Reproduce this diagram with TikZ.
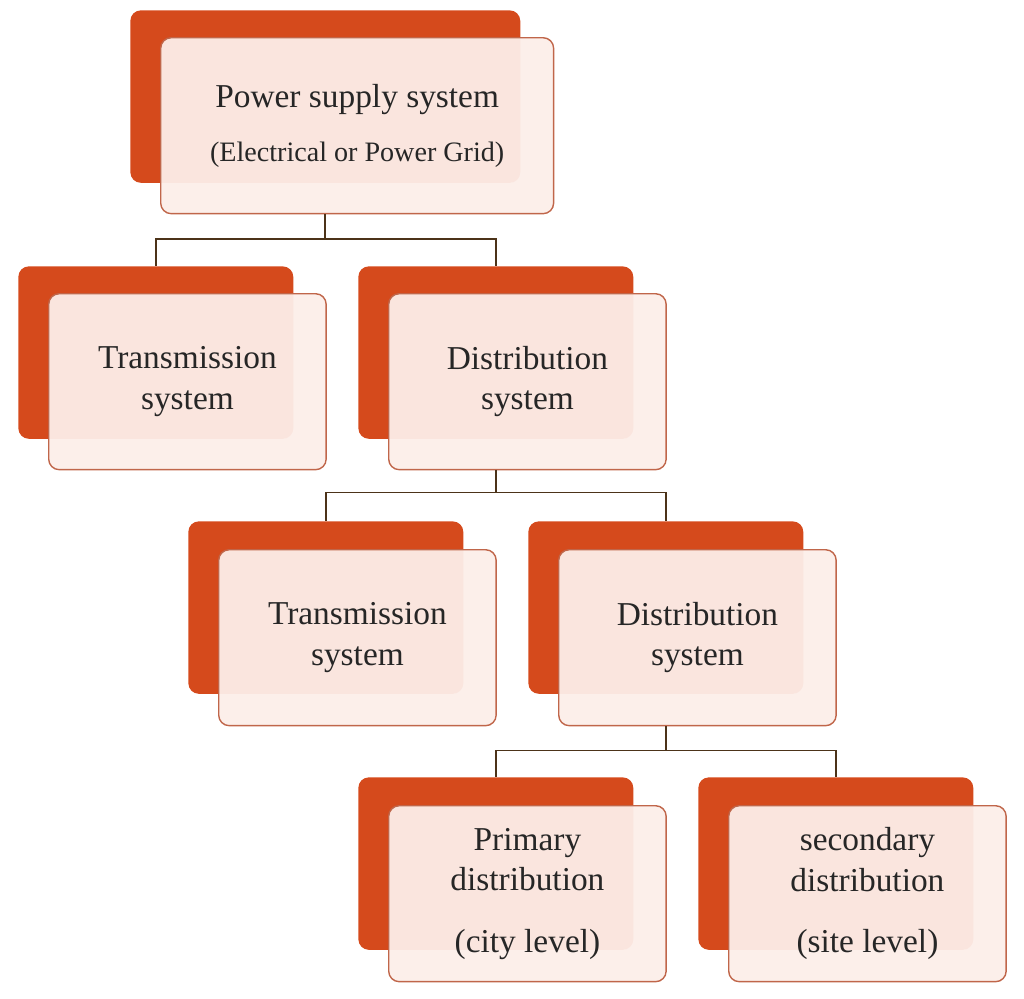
\documentclass[tikz,border=0pt]{standalone}
\usepackage{fontspec}
\setmainfont{Liberation Serif}
\usetikzlibrary{positioning}
\definecolor{rust}{HTML}{D54A1C}
\definecolor{edge}{HTML}{C0664A}
\definecolor{blush}{HTML}{FCEEE9}
\begin{document}
\begin{tikzpicture}[x=0.02cm,y=-0.02cm]
    \tikzstyle{back} = [rectangle, fill=rust, rounded corners=6pt, anchor=north west,
               minimum width=5.5cm, minimum height=3.45cm, inner sep=0pt]
    \tikzstyle{front} = [rectangle, draw=edge, fill=blush, fill opacity=0.95,
               text opacity=1, rounded corners=6pt, anchor=north west, line width=0.8pt,
               minimum width=5.55cm, minimum height=3.52cm, inner sep=0pt,
               align=center, font=\fontsize{19}{23}\selectfont, text=black!85]
    \tikzstyle{line} = [draw=black!60!brown, line width=1pt]

    \useasboundingbox (0,0) rectangle (1024,998);

    % Top level
    \node[back, minimum width=7.8cm] (gridb) at (130,10) {};
    \node[front, minimum width=7.86cm] (grid) at (160,37) {Power supply system\\[8pt]
      {\fontsize{16}{20}\selectfont (Electrical or Power Grid)}};

    % Second level
    \node[back] (transAb) at (18,266) {};
    \node[front] (transA) at (48,293) {Transmission\\system};
    \node[back] (distAb) at (358,266) {};
    \node[front] (distA) at (388,293) {Distribution\\system};

    % Third level
    \node[back] (transBb) at (188,521) {};
    \node[front] (transB) at (218,549) {Transmission\\system};
    \node[back] (distBb) at (528,521) {};
    \node[front] (distB) at (558,549) {Distribution\\system};

    % Fourth level
    \node[back] (primb) at (358,777) {};
    \node[front] (prim) at (388,805) {Primary\\distribution\\[12pt](city level)};
    \node[back] (secb) at (698,777) {};
    \node[front] (sec) at (728,805) {secondary\\distribution\\[12pt](site level)};

    % Connectors
    \draw[line] (grid.south -| gridb.south) -- ++(0,25) -| (transAb.north);
    \draw[line] (grid.south -| gridb.south) -- ++(0,25) -| (distAb.north);
    \draw[line] (distA.south -| distAb.south) -- ++(0,22) -| (transBb.north);
    \draw[line] (distA.south -| distAb.south) -- ++(0,22) -| (distBb.north);
    \draw[line] (distB.south -| distBb.south) -- ++(0,24) -| (primb.north);
    \draw[line] (distB.south -| distBb.south) -- ++(0,24) -| (secb.north);
\end{tikzpicture}
\end{document}
